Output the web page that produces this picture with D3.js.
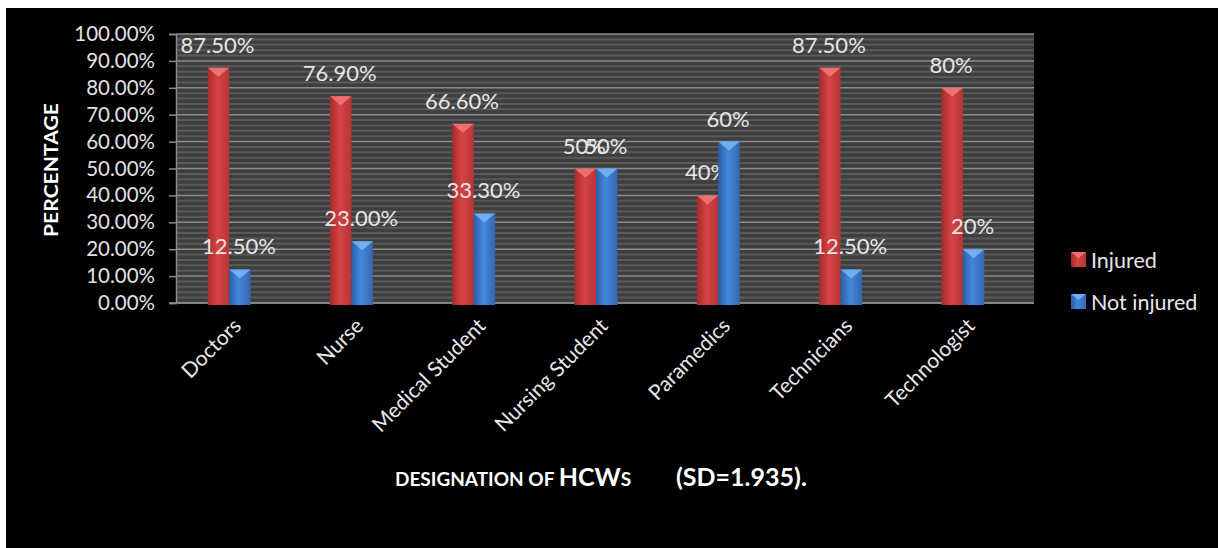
<!DOCTYPE html>
<html><head><meta charset="utf-8">
<script src="https://cdn.jsdelivr.net/npm/d3@7/dist/d3.min.js"></script>
<style>html,body{margin:0;padding:0;background:#fff;} svg{display:block;}</style>
</head><body>
<svg id="chart" width="1218" height="548"></svg>
<script>
const categories = ["Doctors","Nurse","Medical Student","Nursing Student","Paramedics","Technicians","Technologist"];
const series = ["Injured","Not injured"];
const injured = [0.875,0.769,0.666,0.50,0.40,0.875,0.80];
const notInjured = [0.125,0.23,0.333,0.50,0.60,0.125,0.20];
const injuredLabels = ["87.50%","76.90%","66.60%","50%","40%","87.50%","80%"];
const notInjuredLabels = ["12.50%","23.00%","33.30%","50%","60%","12.50%","20%"];
const yTickValues = [0,0.1,0.2,0.3,0.4,0.5,0.6,0.7,0.8,0.9,1.0];
const yTickLabels = ["0.00%","10.00%","20.00%","30.00%","40.00%","50.00%","60.00%","70.00%","80.00%","90.00%","100.00%"];

const FONT = "Lato, 'Open Sans', sans-serif";
const svg = d3.select("#chart");
const defs = svg.append("defs");

// background
svg.append("rect").attr("x",6).attr("y",8).attr("width",1212).attr("height",540).attr("fill","#000");

const x = d3.scaleBand().domain(categories).range([168,1024]).padding(0);
const x1 = d3.scaleBand().domain(series).range([0,x.bandwidth()]).paddingInner(0).paddingOuter(1.85);
const y = d3.scaleLinear().domain([0,1]).range([303,34]);

// plot wall
const plotL = 176, plotR = 1034;
svg.append("rect").attr("x",plotL).attr("y",y(1)).attr("width",plotR-plotL).attr("height",y(0)-y(1)).attr("fill","#3e3e3e");
// minor stripes
const minor = d3.range(0,1.0001,0.02).filter(v=>Math.round(v*100)%10!==0);
svg.append("g").selectAll("line").data(minor).join("line")
  .attr("x1",plotL).attr("x2",plotR).attr("y1",d=>y(d)).attr("y2",d=>y(d))
  .attr("stroke","#5a5a5a").attr("stroke-width",2);
// major gridlines
svg.append("g").selectAll("line").data(yTickValues).join("line")
  .attr("x1",plotL).attr("x2",plotR).attr("y1",d=>y(d)).attr("y2",d=>y(d))
  .attr("stroke","#8c8c8c").attr("stroke-width",1.5);

// y axis
const yAxis = d3.axisLeft(y).tickValues(yTickValues).tickSize(7).tickPadding(14)
  .tickFormat((d,i)=>yTickLabels[i]);
const gy = svg.append("g").attr("transform",`translate(${plotL},0)`).call(yAxis);
gy.select(".domain").attr("stroke","#8c8c8c").attr("stroke-width",1.5);
gy.selectAll(".tick line").attr("stroke","#8c8c8c").attr("stroke-width",1.5);
gy.selectAll(".tick text").attr("fill","#e2e2e2").attr("font-family",FONT).attr("font-size",20.5);

// x axis
const xAxis = d3.axisBottom(x).tickSize(0).tickPadding(0);
const gx = svg.append("g").attr("transform",`translate(0,${y(0)})`).call(xAxis);
gx.select(".domain").attr("stroke","#8c8c8c").attr("stroke-width",1.5).attr("d",`M${plotL-7},0H${plotR}`);
gx.selectAll(".tick text")
  .attr("fill","#e8e8e8").attr("font-family",FONT).attr("font-size",21)
  .attr("text-anchor","end").attr("dy","0.35em")
  .attr("transform","translate(8,19) rotate(-45)");

// gradients
function grad(id, dark, mid, light){
  const g = defs.append("linearGradient").attr("id",id).attr("x1","0").attr("x2","1").attr("y1","0").attr("y2","0");
  g.append("stop").attr("offset","0").attr("stop-color",dark);
  g.append("stop").attr("offset","0.45").attr("stop-color",light);
  g.append("stop").attr("offset","1").attr("stop-color",mid);
}
grad("gInj","#a52b2b","#b83535","#d64343");
grad("gNot","#2a5fa6","#3566b0","#4488dc");
const fills = {"Injured":"url(#gInj)","Not injured":"url(#gNot)"};
const tops = {"Injured":"#f07a7a","Not injured":"#7ab6f5"};

const rows = categories.map((c,i)=>({cat:c, vals:[
  {s:"Injured", v:injured[i], label:injuredLabels[i]},
  {s:"Not injured", v:notInjured[i], label:notInjuredLabels[i]}
]}));

const groups = svg.append("g").selectAll("g").data(rows).join("g")
  .attr("transform",d=>`translate(${x(d.cat)},0)`);
const bars = groups.selectAll("g.bar").data(d=>d.vals).join("g").attr("class","bar");
bars.append("rect")
  .attr("x",d=>x1(d.s)).attr("width",x1.bandwidth())
  .attr("y",d=>y(d.v)).attr("height",d=>y(0)-y(d.v)+2)
  .attr("fill",d=>fills[d.s]);
bars.append("path")
  .attr("d",d=>{const l=x1(d.s), w=x1.bandwidth(), t=y(d.v);
    return `M${l},${t}H${l+w}L${l+w/2},${t+9}Z`;})
  .attr("fill",d=>tops[d.s]).attr("opacity",0.85);
bars.append("text")
  .attr("x",d=>x1(d.s)+x1.bandwidth()/2 - 1)
  .attr("y",d=>y(d.v)-15)
  .attr("text-anchor","middle")
  .attr("fill","#e6e6e6").attr("font-family",FONT).attr("font-size",22)
  .text(d=>d.label);

// y title
svg.append("text").attr("transform","translate(58,170) rotate(-90)")
  .attr("text-anchor","middle").attr("fill","#fff").attr("font-family",FONT)
  .attr("font-weight","bold").attr("font-size",19)
  .attr("textLength",134).attr("lengthAdjust","spacingAndGlyphs").text("PERCENTAGE");

// x title
const xt = svg.append("text").attr("x",395).attr("y",486).attr("fill","#fff")
  .attr("font-family",FONT).attr("font-weight","bold");
xt.append("tspan").attr("font-size",19).text("DESIGNATION OF ");
xt.append("tspan").attr("font-size",25).text("HCW");
xt.append("tspan").attr("font-size",19).text("S");
xt.append("tspan").attr("x",676).attr("font-size",25).text("(SD=1.935).");

// legend
const leg = svg.append("g").selectAll("g").data(series).join("g")
  .attr("transform",(d,i)=>`translate(1071,${252+i*42})`);
leg.append("rect").attr("width",15).attr("height",15).attr("fill",d=>fills[d]);
leg.append("path").attr("d","M0,0H15L7.5,6Z").attr("fill",d=>tops[d]).attr("opacity",0.85);
leg.append("text").attr("x",20).attr("y",8).attr("dy","0.35em")
  .attr("fill","#e6e6e6").attr("font-family",FONT).attr("font-size",21.5).text(d=>d);
</script>
</body></html>
